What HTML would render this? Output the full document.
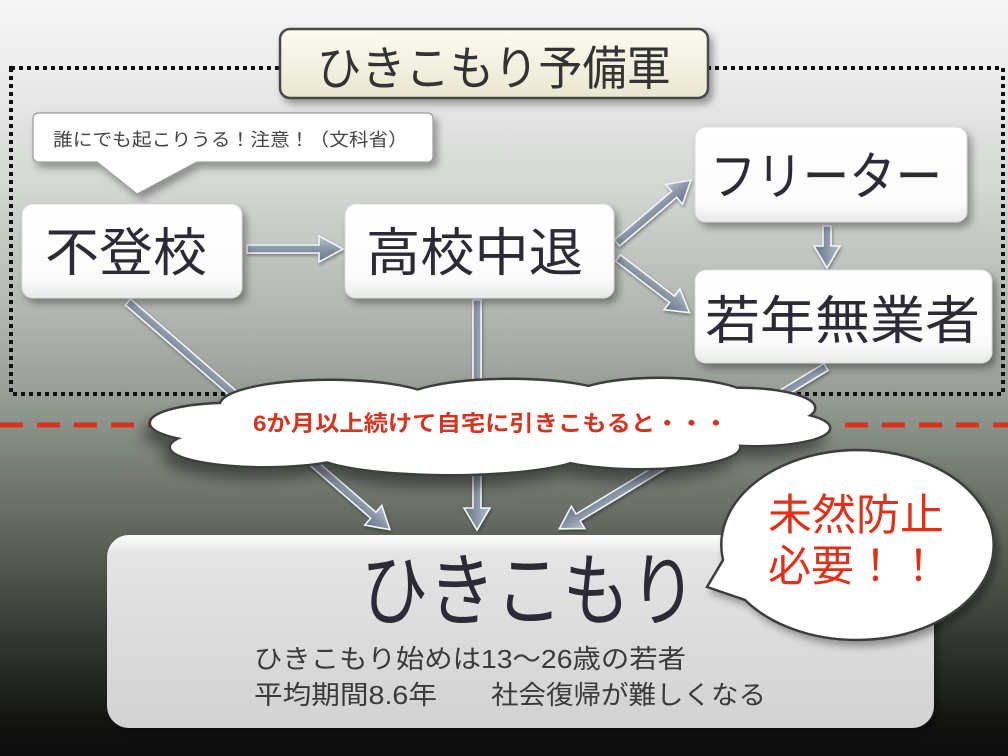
<!DOCTYPE html>
<html><head><meta charset="utf-8">
<style>
html,body{margin:0;padding:0;width:1008px;height:756px;overflow:hidden;background:#111;}
svg{display:block;}
text{font-family:"Liberation Sans","Noto Sans CJK JP",sans-serif;}
</style></head>
<body>
<svg width="1008" height="756" viewBox="0 0 1008 756" xmlns="http://www.w3.org/2000/svg">
<defs>
  <linearGradient id="bg" x1="0" y1="0" x2="0" y2="1">
    <stop offset="0" stop-color="#f6f6f6"/>
    <stop offset="0.10" stop-color="#ebebeb"/>
    <stop offset="0.25" stop-color="#d3d6d3"/>
    <stop offset="0.40" stop-color="#b4b9b3"/>
    <stop offset="0.53" stop-color="#959c94"/>
    <stop offset="0.60" stop-color="#7d847b"/>
    <stop offset="0.69" stop-color="#646a62"/>
    <stop offset="0.80" stop-color="#424740"/>
    <stop offset="0.90" stop-color="#232621"/>
    <stop offset="0.96" stop-color="#121311"/>
    <stop offset="1" stop-color="#0c0c0c"/>
  </linearGradient>
  <linearGradient id="node" x1="0" y1="0" x2="0" y2="1">
    <stop offset="0" stop-color="#ffffff"/>
    <stop offset="0.8" stop-color="#fbfbfb"/>
    <stop offset="1" stop-color="#e9e9e9"/>
  </linearGradient>
  <linearGradient id="title" x1="0" y1="0" x2="0" y2="1">
    <stop offset="0" stop-color="#fbfaf2"/>
    <stop offset="1" stop-color="#e9e7cf"/>
  </linearGradient>
  <linearGradient id="main" x1="0" y1="0" x2="0" y2="1">
    <stop offset="0" stop-color="#ffffff"/>
    <stop offset="0.10" stop-color="#e4e4e4"/>
    <stop offset="1" stop-color="#d2d2d2"/>
  </linearGradient>
  <linearGradient id="arr" x1="0" y1="0" x2="0" y2="1">
    <stop offset="0" stop-color="#b9c1cd"/>
    <stop offset="0.5" stop-color="#8a95a6"/>
    <stop offset="1" stop-color="#69748a"/>
  </linearGradient>
  <filter id="sh" x="-20%" y="-20%" width="140%" height="150%">
    <feDropShadow dx="4" dy="5" stdDeviation="4" flood-color="#000" flood-opacity="0.35"/>
  </filter>
  <filter id="sh2" x="-20%" y="-40%" width="140%" height="190%">
    <feDropShadow dx="-6" dy="10" stdDeviation="7" flood-color="#000" flood-opacity="0.45"/>
  </filter>
  <filter id="ash" x="-20%" y="-50%" width="140%" height="200%">
    <feDropShadow dx="1" dy="2" stdDeviation="1.5" flood-color="#000" flood-opacity="0.35"/>
  </filter>
</defs>

<!-- background -->
<rect x="0" y="0" width="1008" height="756" fill="url(#bg)"/>

<!-- dotted region -->
<rect x="11" y="68" width="992" height="326" fill="none" stroke="#111" stroke-width="4" stroke-dasharray="4 4"/>

<!-- red dashed line -->
<line x1="0" y1="425" x2="150" y2="425" stroke="#d9331d" stroke-width="5" stroke-dasharray="23 14"/>
<line x1="845" y1="425" x2="1008" y2="425" stroke="#d9331d" stroke-width="5" stroke-dasharray="23 14"/>

<!-- title box -->
<rect x="280" y="29" width="428" height="69" rx="10" fill="url(#title)" stroke="#4a4a4a" stroke-width="2.5" filter="url(#sh)"/>
<text x="317" y="85" font-size="47" fill="#333" textLength="354" lengthAdjust="spacingAndGlyphs">ひきこもり予備軍</text>

<!-- callout -->
<path d="M39,113 H427 Q433,113 433,119 V156 Q433,162 427,162 H197 L137,194 L97,162 H39 Q33,162 33,156 V119 Q33,113 39,113 Z" fill="#fff" stroke="#9a9a9a" stroke-width="1.2" filter="url(#sh)"/>
<text x="53" y="146" font-size="18" fill="#444" textLength="355" lengthAdjust="spacingAndGlyphs">誰にでも起こりうる！注意！（文科省）</text>

<!-- arrows (under cloud) -->
<g fill="url(#arr)" stroke="#f2f4f7" stroke-width="1.6" stroke-linejoin="miter" filter="url(#ash)">
  <polygon transform="translate(128,302) rotate(41)" points="0,-4 325,-4 325,-13 347,0 325,13 325,4 0,4"/>
  <polygon transform="translate(477,300) rotate(90)" points="0,-4 208,-4 208,-13 230,0 208,13 208,4 0,4"/>
  <polygon transform="translate(826,367) rotate(148.75)" points="0,-4 290,-4 290,-13 312,0 290,13 290,4 0,4"/>
  <polygon transform="translate(247,249) rotate(0)" points="0,-4 72,-4 72,-13 96,0 72,13 72,4 0,4"/>
  <polygon transform="translate(617,243) rotate(-40.4)" points="0,-4 75,-4 75,-13 97,0 75,13 75,4 0,4"/>
  <polygon transform="translate(618,258) rotate(37.4)" points="0,-4 68,-4 68,-13 90,0 68,13 68,4 0,4"/>
  <polygon transform="translate(827,226) rotate(90)" points="0,-4 20,-4 20,-13 42,0 20,13 20,4 0,4"/>
</g>

<!-- node boxes -->
<g filter="url(#sh)">
  <rect x="22" y="204" width="220" height="94" rx="11" fill="url(#node)" stroke="#dcdcdc" stroke-width="1"/>
  <rect x="345" y="204" width="269" height="94" rx="11" fill="url(#node)" stroke="#dcdcdc" stroke-width="1"/>
  <rect x="695" y="127" width="272" height="95" rx="11" fill="url(#node)" stroke="#dcdcdc" stroke-width="1"/>
  <rect x="695" y="270" width="297" height="93" rx="11" fill="url(#node)" stroke="#dcdcdc" stroke-width="1"/>
</g>
<g fill="#2b2b35" font-size="52">
  <text x="45" y="271" textLength="162" lengthAdjust="spacingAndGlyphs">不登校</text>
  <text x="366" y="271" textLength="217" lengthAdjust="spacingAndGlyphs">高校中退</text>
  <text x="710" y="195" textLength="232" lengthAdjust="spacingAndGlyphs">フリーター</text>
  <text x="705" y="339" textLength="275" lengthAdjust="spacingAndGlyphs">若年無業者</text>
</g>

<!-- cloud -->
<g filter="url(#sh2)">
  <g fill="#fff" stroke="#3e3e3e" stroke-width="3">
    <ellipse cx="230" cy="423" rx="80" ry="20"/>
    <ellipse cx="265" cy="447" rx="95" ry="20"/>
    <ellipse cx="330" cy="405" rx="110" ry="25"/>
    <ellipse cx="510" cy="403" rx="110" ry="24"/>
    <ellipse cx="660" cy="402" rx="95" ry="24"/>
    <ellipse cx="740" cy="408" rx="75" ry="20"/>
    <ellipse cx="755" cy="428" rx="75" ry="18"/>
    <ellipse cx="450" cy="450" rx="140" ry="25"/>
    <ellipse cx="640" cy="447" rx="100" ry="22"/>
  </g>
</g>
<g fill="#fff">
  <ellipse cx="230" cy="423" rx="79" ry="19"/>
  <ellipse cx="265" cy="447" rx="94" ry="19"/>
  <ellipse cx="330" cy="405" rx="109" ry="24"/>
  <ellipse cx="510" cy="403" rx="109" ry="23"/>
  <ellipse cx="660" cy="402" rx="94" ry="23"/>
  <ellipse cx="740" cy="408" rx="74" ry="19"/>
  <ellipse cx="755" cy="428" rx="74" ry="17"/>
  <ellipse cx="450" cy="450" rx="139" ry="24"/>
  <ellipse cx="640" cy="447" rx="99" ry="21"/>
  <ellipse cx="490" cy="428" rx="260" ry="30"/>
</g>
<text x="253" y="431" font-size="22" font-weight="bold" fill="#d6341f" textLength="475" lengthAdjust="spacingAndGlyphs">6か月以上続けて自宅に引きこもると・・・</text>

<!-- main box -->
<rect x="107" y="535" width="827" height="193" rx="22" fill="url(#main)" filter="url(#sh)"/>
<text x="361" y="619" font-size="80" fill="#2b2b35" textLength="336" lengthAdjust="spacingAndGlyphs">ひきこもり</text>
<g fill="#3a3a3a" font-size="26">
  <text x="254" y="668" textLength="432" lengthAdjust="spacingAndGlyphs">ひきこもり始めは13～26歳の若者</text>
  <text x="254" y="704" textLength="183" lengthAdjust="spacingAndGlyphs">平均期間8.6年</text>
  <text x="491" y="704" textLength="275" lengthAdjust="spacingAndGlyphs">社会復帰が難しくなる</text>
</g>

<!-- speech bubble -->
<g filter="url(#sh)">
  <path d="M857,450 A137,95 0 1 1 745,600 L707,587 L723,560 A137,95 0 0 1 857,450 Z" fill="#fff" stroke="#3e3e3e" stroke-width="2.5"/>
</g>
<g fill="#e0301a" font-size="43">
  <text x="768" y="530" textLength="176" lengthAdjust="spacingAndGlyphs">未然防止</text>
  <text x="768" y="581">必要！！</text>
</g>
</svg>
</body></html>
